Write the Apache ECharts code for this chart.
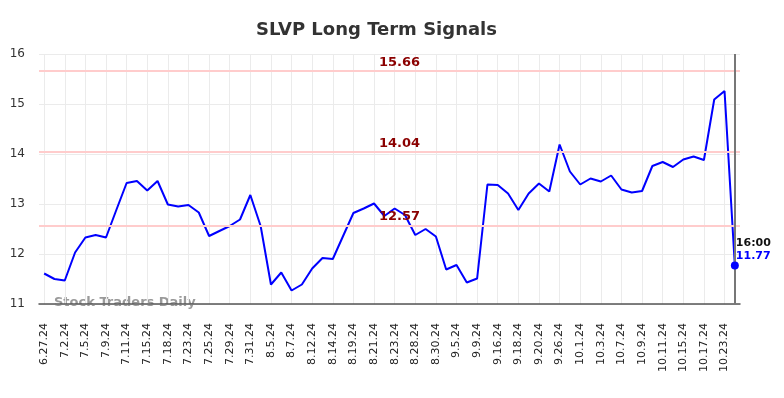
<!DOCTYPE html>
<html>
<head>
<meta charset="utf-8">
<script src="https://cdn.jsdelivr.net/npm/echarts@6/dist/echarts.min.js"></script>
<style>
  html, body { margin: 0; padding: 0; background: #fff; }
  #chart { width: 784px; height: 398px; }
</style>
</head>
<body>
<div id="chart"></div>
<script>
// trading dates (x axis)
const dates = [
  "6.27.24", "6.28.24", "7.2.24", "7.3.24", "7.5.24", "7.8.24", "7.9.24", "7.10.24",
  "7.11.24", "7.12.24", "7.15.24", "7.16.24", "7.18.24", "7.19.24", "7.23.24", "7.24.24",
  "7.25.24", "7.26.24", "7.29.24", "7.30.24", "7.31.24", "8.1.24", "8.5.24", "8.6.24",
  "8.7.24", "8.8.24", "8.12.24", "8.13.24", "8.14.24", "8.16.24", "8.19.24", "8.20.24",
  "8.21.24", "8.22.24", "8.23.24", "8.27.24", "8.28.24", "8.29.24", "8.30.24", "9.4.24",
  "9.5.24", "9.6.24", "9.9.24", "9.13.24", "9.16.24", "9.17.24", "9.18.24", "9.19.24",
  "9.20.24", "9.25.24", "9.26.24", "9.30.24", "10.1.24", "10.2.24", "10.3.24", "10.4.24",
  "10.7.24", "10.8.24", "10.9.24", "10.10.24", "10.11.24", "10.14.24", "10.15.24", "10.16.24",
  "10.17.24", "10.22.24", "10.23.24", "10.25.24"
];
// closing prices
const prices = [
  11.61, 11.50, 11.47, 12.03, 12.33, 12.38, 12.33, 12.88,
  13.42, 13.46, 13.27, 13.46, 12.99, 12.95, 12.98, 12.83,
  12.36, 12.46, 12.56, 12.69, 13.18, 12.56, 11.39, 11.63,
  11.27, 11.39, 11.71, 11.92, 11.90, 12.36, 12.82, 12.91,
  13.01, 12.76, 12.91, 12.78, 12.38, 12.50, 12.35, 11.69,
  11.78, 11.43, 11.51, 13.39, 13.38, 13.21, 12.88, 13.21,
  13.41, 13.25, 14.19, 13.65, 13.39, 13.51, 13.45, 13.57,
  13.29, 13.23, 13.26, 13.76, 13.84, 13.74, 13.89, 13.95,
  13.88, 15.09, 15.26, 11.77
];
// signal levels
const levels = [15.66, 14.04, 12.57];
const yTicks = [11, 12, 13, 14, 15, 16];
const lastTime = "16:00";

const chart = echarts.init(document.getElementById("chart"));
const lastIdx = prices.length - 1;

chart.setOption({
  animation: false,
  title: {
    text: "SLVP Long Term Signals",
    left: 251,
    top: 16,
    textStyle: { fontSize: 18, fontWeight: "bold", color: "#333", fontFamily: "DejaVu Sans" },
  },
  grid: { left: 39, right: 44, top: 54, bottom: 94 },
  xAxis: {
    type: "category",
    data: dates,
    boundaryGap: true,
    axisLine: { lineStyle: { color: "#555", width: 1.5 } },
    axisTick: { show: false },
    axisLabel: {
      interval: 1,
      rotate: 90,
      margin: 19,
      fontSize: 11,
      color: "#222",
      fontFamily: "DejaVu Sans",
    },
    splitLine: {
      show: true,
      interval: 1,
      alignWithLabel: true,
      lineStyle: { color: "#ebebeb", width: 1 },
    },
  },
  yAxis: {
    type: "value",
    min: yTicks[0],
    max: yTicks[yTicks.length - 1],
    interval: 1,
    axisLine: { show: false },
    axisTick: { show: false },
    axisLabel: { margin: 14, fontSize: 12, color: "#333", fontFamily: "DejaVu Sans" },
    splitLine: { lineStyle: { color: "#ebebeb", width: 1 } },
  },
  graphic: [
    {
      type: "text",
      left: 54,
      top: 296,
      style: {
        text: "Stock Traders Daily",
        fontSize: 13,
        fontWeight: "bold",
        fill: "rgba(120,120,120,0.75)",
        fontFamily: "DejaVu Sans",
      },
    },
  ],
  series: [
    {
      type: "line",
      data: prices,
      symbol: "none",
      lineStyle: { color: "#0000ff", width: 2 },
      markLine: {
        silent: true,
        symbol: "none",
        data: levels.map((v) => ({
          yAxis: v,
          lineStyle: { color: "#ffcccc", width: 2, type: "solid" },
          label: {
            show: true,
            position: "middle",
            formatter: v.toFixed(2),
            color: "#8b0000",
            fontWeight: "bold",
            fontSize: 13,
            fontFamily: "DejaVu Sans",
            offset: [10, 3],
          },
        })).concat([
          {
            xAxis: dates[lastIdx],
            lineStyle: { color: "#777", width: 2, type: "solid" },
            label: { show: false },
          },
        ]),
      },
      markPoint: {
        silent: true,
        symbol: "circle",
        symbolSize: 8,
        itemStyle: { color: "#0000ff" },
        data: [
          {
            coord: [dates[lastIdx], prices[lastIdx]],
            label: {
              show: true,
              position: [5, -25],
              align: "left",
              formatter: "{t|" + lastTime + "}\n{v|" + prices[lastIdx].toFixed(2) + "}",
              rich: {
                t: { color: "#111", fontWeight: "bold", fontSize: 11, lineHeight: 13, fontFamily: "DejaVu Sans" },
                v: { color: "#0000ff", fontWeight: "bold", fontSize: 11, lineHeight: 13, fontFamily: "DejaVu Sans" },
              },
            },
          },
        ],
      },
    },
  ],
});
</script>
</body>
</html>
